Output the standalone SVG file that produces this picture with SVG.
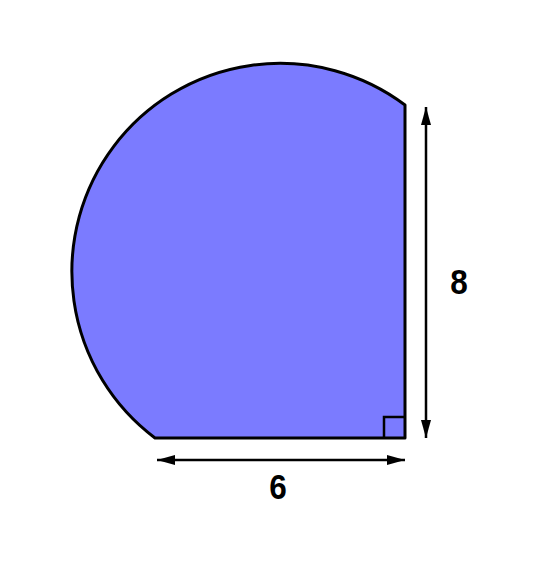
<svg xmlns="http://www.w3.org/2000/svg" width="542" height="566" viewBox="0 0 542 566">
<defs>
<marker id="ah" viewBox="0 0 18 10" refX="18" refY="5" markerWidth="18" markerHeight="10" markerUnits="userSpaceOnUse" orient="auto-start-reverse">
<path d="M0,0 L18,5 L0,10 Z" fill="#000"/>
</marker>
</defs>
<style>
.shape{fill:#7b7bff;stroke:#000;stroke-width:3;stroke-linejoin:round}
.dim{stroke:#000;stroke-width:2.5;fill:none}
.lbl{font-family:"Liberation Sans",Arial,sans-serif;font-weight:bold;font-size:35px;fill:#000;text-anchor:middle}
</style>
<g id="shape">
<path class="shape" d="M155,438 L405,438 L405,105 A208.2,208.2 0 0 0 155,438 Z"/>
<path d="M384,438 L384,417 L405,417" fill="none" stroke="#000" stroke-width="2.5"/>
</g>
<g id="connectors">
<line class="dim" x1="157" y1="460" x2="405" y2="460" marker-start="url(#ah)" marker-end="url(#ah)"/>
<line class="dim" x1="426" y1="107" x2="426" y2="438" marker-start="url(#ah)" marker-end="url(#ah)"/>
</g>
<g id="label6"><text class="lbl" x="278" y="499" transform="translate(278,0) scale(0.9,1) translate(-278,0)">6</text></g>
<g id="label8"><text class="lbl" x="459" y="294" transform="translate(459,0) scale(0.9,1) translate(-459,0)">8</text></g>
</svg>
